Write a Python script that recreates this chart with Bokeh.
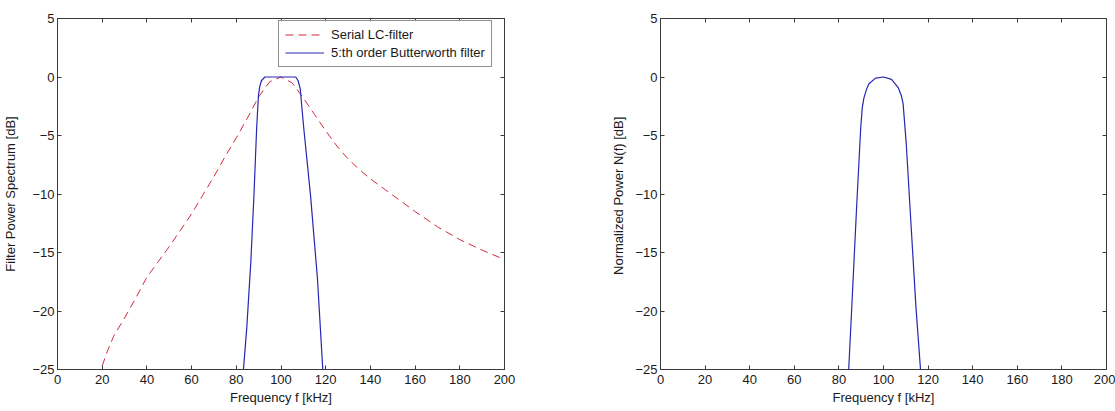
from bokeh.plotting import figure
from bokeh.models import Range1d, FixedTicker, LinearAxis, Legend, LegendItem, CustomJSTickFormatter
from bokeh.layouts import row
from bokeh.embed import file_html
from bokeh.resources import INLINE

# ---- data ----
x_ticks = [0, 20, 40, 60, 80, 100, 120, 140, 160, 180, 200]
y_ticks = [5, 0, -5, -10, -15, -20, -25]

lc_freq = [20, 22, 25, 30, 35, 40, 45, 50, 55, 60, 65, 70, 75, 80, 85, 90, 95,
           100, 105, 110, 115, 120, 125, 130, 135, 140, 145, 150, 160, 170, 180,
           190, 200]
lc_db = [-24.7, -23.6, -22.2, -20.6, -18.9, -17.1, -15.8, -14.5, -13.1, -11.7,
         -10.1, -8.5, -6.8, -5.2, -3.5, -1.7, -0.4, 0.0, -0.5, -1.8, -3.2, -4.6,
         -5.9, -7.0, -7.9, -8.7, -9.4, -10.1, -11.5, -12.8, -13.9, -14.8, -15.6]

bw_freq = [83.2, 84.7, 86.5, 87.9, 89.1, 89.9, 90.5, 91.3, 92.8, 100.0, 106.6,
           107.6, 108.6, 109.3, 110.2, 113.2, 116.3, 118.7]
bw_db = [-25.0, -21.4, -15.8, -10.1, -4.4, -1.6, -0.8, -0.3, 0.0, 0.0, 0.0,
         -0.3, -1.0, -2.5, -4.4, -10.1, -17.2, -25.0]

nf_freq = [84.4, 86.1, 87.9, 89.8, 90.5, 91.2, 92.3, 93.4, 96.4, 100.0, 103.6,
           106.6, 108.0, 108.8, 110.2, 112.4, 114.6, 116.6]
nf_db = [-25.0, -18.4, -11.3, -4.3, -2.6, -1.8, -1.1, -0.6, -0.1, 0.0, -0.2,
         -0.9, -1.6, -2.3, -5.7, -12.8, -19.8, -25.0]

FONT = "Liberation Sans"
AX_COLOR = "#3a3a3a"
RED = "#d42a3c"
BLUE = "#2626b0"


def style_axis(ax, ticks, labels=True):
    ax.ticker = FixedTicker(ticks=ticks)
    ax.minor_tick_line_color = None
    ax.major_tick_in = 4
    ax.major_tick_out = 0
    ax.axis_line_color = AX_COLOR
    ax.major_tick_line_color = AX_COLOR
    ax.major_label_text_font = FONT
    ax.major_label_text_color = "#1a1a1a"
    ax.major_label_text_font_size = "13px"
    if not labels:
        ax.formatter = CustomJSTickFormatter(code="return ''")
        ax.major_label_standoff = 0


def make_fig(width, bl, br, bt, bb, ylabel, ylabel_standoff):
    p = figure(width=width, height=408,
               x_range=Range1d(0, 200), y_range=Range1d(-25, 5),
               output_backend="svg", toolbar_location=None,
               min_border_left=bl, min_border_right=br,
               min_border_top=bt, min_border_bottom=bb)
    p.grid.visible = False
    p.outline_line_color = AX_COLOR
    style_axis(p.xaxis[0], x_ticks)
    style_axis(p.yaxis[0], y_ticks)
    p.xaxis[0].major_label_standoff = 5
    p.yaxis[0].major_label_standoff = 3
    p.xaxis[0].axis_label = "Frequency f [kHz]"
    p.yaxis[0].axis_label = ylabel
    for ax in (p.xaxis[0], p.yaxis[0]):
        ax.axis_label_text_font = FONT
        ax.axis_label_text_font_size = "13px"
        ax.axis_label_text_font_style = "normal"
        ax.axis_label_text_color = "#1a1a1a"
    p.xaxis[0].axis_label_standoff = 3
    p.yaxis[0].axis_label_standoff = ylabel_standoff
    top = LinearAxis()
    style_axis(top, x_ticks, labels=False)
    p.add_layout(top, "above")
    right = LinearAxis()
    style_axis(right, y_ticks, labels=False)
    p.add_layout(right, "right")
    return p


p1 = make_fig(608, 54, 104, 15, 39, "Filter Power Spectrum [dB]", 11)
r_lc = p1.line(lc_freq, lc_db, line_color=RED, line_width=1, line_dash="8 5")
r_bw = p1.line(bw_freq, bw_db, line_color=BLUE, line_width=1.2)

legend = Legend(items=[LegendItem(label="Serial LC-filter", renderers=[r_lc]),
                       LegendItem(label="5:th order Butterworth filter", renderers=[r_bw])],
                location=(221, 302), margin=0, padding=6, spacing=3,
                glyph_width=39, glyph_height=15, label_height=15,
                label_standoff=7, label_text_font=FONT, label_text_font_size="13px",
                label_text_color="#1a1a1a",
                border_line_color="#222222", border_line_width=1,
                background_fill_color="white", background_fill_alpha=1.0)
p1.add_layout(legend, "center")

p2 = make_fig(507, 46, 9, 18, 37, "Normalized Power N(f)  [dB]", 6)
p2.line(nf_freq, nf_db, line_color=BLUE, line_width=1.2)

layout = row(p1, p2)
open("out.html", "w").write(file_html(layout, INLINE))
